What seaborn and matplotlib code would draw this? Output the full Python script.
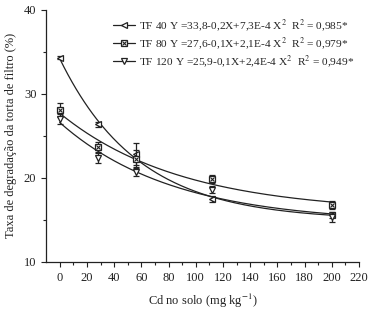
import numpy as np
import pandas as pd
import matplotlib
matplotlib.use("Agg")
import matplotlib.pyplot as plt
import seaborn as sns

cd = [0, 28, 56, 112, 200]
tf40 = [34.3, 26.4, 22.8, 17.5, 15.6]
tf40_err = [0.2, 0.3, 1.3, 0.4, 0.4]
tf80 = [28.1, 23.7, 22.3, 19.9, 16.8]
tf80_err = [0.8, 0.6, 1.0, 0.5, 0.5]
tf120 = [27.0, 22.4, 20.7, 18.6, 15.3]
tf120_err = [0.6, 0.6, 0.5, 0.4, 0.6]
labels = ["TF 40 Y =33,8-0,2X+7,3E-4 X$^2$  R$^2$ = 0,985*",
          "TF 80 Y =27,6-0,1X+2,1E-4 X$^2$  R$^2$ = 0,979*",
          "TF 120 Y =25,9-0,1X+2,4E-4 X$^2$  R$^2$ = 0,949*"]
markers = ["<", "s", "v"]

sns.set_style("ticks")
plt.rcParams['font.family'] = ['Liberation Serif', 'DejaVu Serif']
plt.rcParams['mathtext.fontset'] = 'stix'

fig = plt.figure(figsize=(3.69, 3.10), dpi=100)
ax = fig.add_axes([0.125, 0.155, 0.848, 0.813])

def fit_curve(x, y):
    x = np.asarray(x, float); y = np.asarray(y, float)
    best = None
    for k in np.linspace(0.002, 0.08, 400):
        A = np.column_stack([np.ones_like(x), np.exp(-k * x)])
        coef, res, *_ = np.linalg.lstsq(A, y, rcond=None)
        r = np.sum((A @ coef - y) ** 2)
        if best is None or r < best[0]:
            best = (r, k, coef)
    _, k, coef = best
    xs = np.linspace(x.min(), x.max(), 200)
    return xs, coef[0] + coef[1] * np.exp(-k * xs)

col = "#222222"
handles = []
for ys, err, m, lab in zip([tf40, tf80, tf120], [tf40_err, tf80_err, tf120_err], markers, labels):
    xs, yf = fit_curve(cd, ys)
    df = pd.DataFrame({"x": xs, "y": yf})
    sns.lineplot(data=df, x="x", y="y", ax=ax, color=col, lw=0.9)
    ax.errorbar(cd, ys, yerr=err, fmt="none", ecolor=col, elinewidth=0.9, capsize=2.5, capthick=0.9)
    ax.plot(cd, ys, ls="none", marker=m, ms=5, mfc="white", mec=col, mew=0.9)
    h, = ax.plot([], [], color=col, lw=0.9, marker=m, ms=4.5, mfc="white", mec=col, mew=0.9)
    if m == "s":
        ax.plot(cd, ys, ls="none", marker="x", ms=3.4, mec=col, mew=0.8)
        hx, = ax.plot([], [], ls="none", marker="x", ms=3.0, mec=col, mew=0.8)
        handles.append((h, hx))
    else:
        handles.append(h)

ax.set_xlim(-10, 220)
ax.set_ylim(10, 40)
ax.set_xticks(np.arange(0, 221, 20))
ax.set_xticks(np.arange(10, 221, 20), minor=True)
ax.set_yticks([10, 20, 30, 40])
ax.set_yticks([15, 25, 35], minor=True)
ax.tick_params(axis="both", which="major", labelsize=9, length=3.5, width=0.8, direction="out", color=col, labelcolor=col)
ax.tick_params(axis="both", which="minor", length=2, width=0.8, direction="out", color=col)
for s in ["left", "bottom"]:
    ax.spines[s].set_linewidth(0.9)
    ax.spines[s].set_color(col)
sns.despine(ax=ax)
ax.set_xlabel("Cd no solo (mg kg$^{-1}$)", fontsize=9, color=col, labelpad=6)
ax.set_ylabel("Taxa de degradação da torta de filtro (%)", fontsize=9, color=col, labelpad=5)
ax.legend(handles=handles, labels=labels, loc="upper right", bbox_to_anchor=(1.0, 0.99), frameon=False, fontsize=8.2,
          handlelength=1.9, handletextpad=0.4, labelspacing=0.15, borderaxespad=0.0)
fig.savefig("out.png", dpi=100)
